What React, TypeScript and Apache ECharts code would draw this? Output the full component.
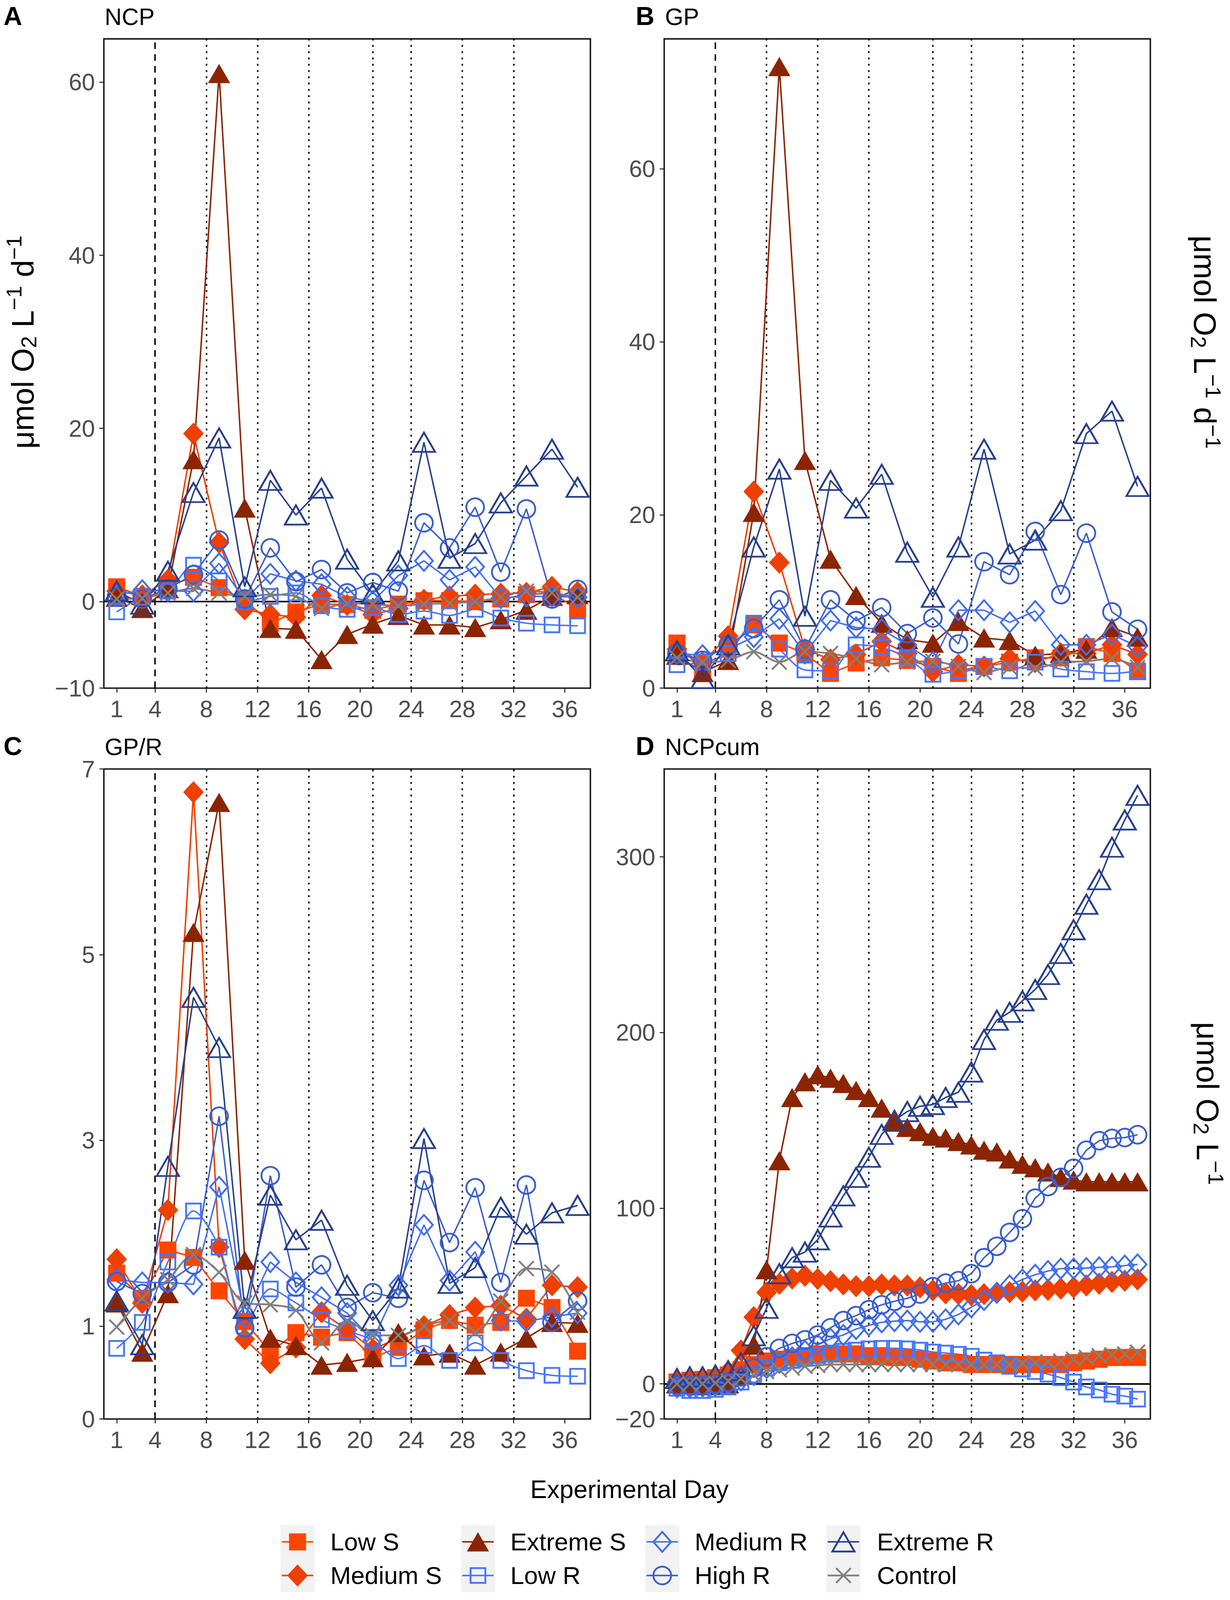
import React, { useEffect, useRef } from 'react';
import * as echarts from 'echarts';

// ---------- categories / ticks ----------
const treatments = ['Low S', 'Medium S', 'Extreme S', 'Low R', 'Medium R', 'High R', 'Extreme R', 'Control'];
const oddDays = [1, 3, 5, 7, 9, 11, 13, 15, 17, 19, 21, 23, 25, 27, 29, 31, 33, 35, 37];
const allDays = [1, 2, 3, 4, 5, 6, 7, 8, 9, 10, 11, 12, 13, 14, 15, 16, 17, 18, 19, 20, 21, 22, 23, 24, 25, 26, 27, 28, 29, 30, 31, 32, 33, 34, 35, 36, 37];
const xTicks = [1, 4, 8, 12, 16, 20, 24, 28, 32, 36];
const dashedDays = [4];
const dottedDays = [8, 12, 16, 21, 24, 28, 32];
const yTicksA = [-10, 0, 20, 40, 60];
const yTicksB = [0, 20, 40, 60];
const yTicksC = [0, 1, 3, 5, 7];
const yTicksD = [-20, 0, 100, 200, 300];

// ---------- A: NCP ----------
const ncpLowS = [1.7, 0.6, 1.8, 2.8, 1.6, 0.2, -2.5, -1.2, -0.3, -0.35, -1.0, -0.3, 0.1, 0.1, 0.0, 0.3, 0.8, 1.0, -0.9];
const ncpMedS = [1.2, 0.7, 2.5, 19.4, 6.8, -0.9, -1.5, -1.8, 0.7, -0.4, -1.5, -0.8, 0.2, 0.6, 0.8, 0.9, 1.0, 1.7, 1.1];
const ncpExtS = [0.5, -0.8, 1.5, 16.4, 61.0, 10.8, -3.1, -3.2, -6.7, -3.8, -2.6, -1.6, -2.7, -2.7, -3.0, -2.1, -1.0, 0.6, 0.8];
const ncpLowR = [-1.2, 0.5, 1.2, 4.2, 2.4, 0.0, 0.6, 1.0, -0.5, -0.9, -0.7, -1.5, -1.1, -1.6, -0.9, -1.9, -2.5, -2.7, -2.8];
const ncpMedR = [0.8, 1.3, 1.2, 1.2, 4.4, 0.2, 3.2, 2.4, 2.0, 0.5, 0.0, 3.0, 4.7, 2.5, 4.0, 0.4, 0.6, 0.6, 0.5];
const ncpHighR = [0.5, 0.3, 1.5, 3.1, 7.1, 0.3, 6.2, 2.3, 3.7, 1.0, 2.2, 1.2, 9.1, 6.2, 10.9, 3.4, 10.7, 0.3, 1.4];
const ncpExtR = [1.2, -0.3, 3.5, 12.6, 18.9, 1.7, 14.0, 10.0, 13.1, 4.9, 0.9, 4.7, 18.4, 5.0, 6.7, 11.4, 14.5, 17.6, 13.2];
const ncpCtrl = [0.3, 0.4, 1.0, 1.5, 1.0, 0.6, 0.8, 0.6, -0.8, -0.2, -0.3, -0.5, -0.3, -0.2, 0.0, 0.5, 1.2, 1.0, 0.5];

// ---------- B: GP ----------
const gpLowS = [5.2, 2.0, 4.5, 7.3, 5.2, 4.0, 1.7, 2.9, 3.5, 3.2, 2.5, 1.7, 2.5, 3.0, 3.5, 3.5, 4.8, 4.0, 1.9];
const gpMedS = [4.5, 3.0, 6.0, 22.7, 14.5, 4.5, 3.3, 3.9, 5.4, 4.0, 1.9, 2.7, 2.5, 3.4, 3.0, 4.0, 4.0, 5.0, 3.9];
const gpExtS = [3.8, 1.8, 3.2, 20.3, 71.8, 26.3, 14.9, 10.7, 7.5, 5.6, 5.2, 7.7, 5.8, 5.5, 3.8, 4.0, 4.5, 7.0, 5.9];
const gpLowR = [2.7, 3.0, 4.0, 7.5, 4.5, 2.1, 2.0, 5.0, 4.7, 3.5, 1.6, 2.0, 2.5, 2.0, 3.0, 2.2, 1.9, 1.7, 2.0];
const gpMedR = [4.0, 3.8, 4.5, 5.9, 8.0, 4.0, 7.8, 7.0, 6.8, 5.0, 3.0, 9.0, 9.0, 7.6, 8.9, 5.0, 5.0, 6.2, 4.8];
const gpHighR = [4.0, 3.2, 5.0, 6.9, 10.2, 4.5, 10.2, 7.8, 9.3, 6.3, 8.1, 5.1, 14.6, 13.1, 18.1, 10.8, 17.9, 8.8, 6.8];
const gpExtR = [4.3, 1.1, 5.0, 16.3, 25.3, 8.3, 24.0, 20.8, 24.7, 15.7, 10.5, 16.3, 27.6, 15.5, 17.1, 20.5, 29.4, 32.0, 23.3];
const gpCtrl = [3.5, 3.0, 3.2, 4.2, 3.0, 4.2, 4.0, 3.4, 2.7, 3.0, 3.1, 2.5, 1.8, 2.4, 2.3, 3.0, 3.1, 3.4, 2.4];

// ---------- C: GP/R ----------
const grLowS = [1.57, 1.3, 1.82, 1.74, 1.38, 1.05, 0.72, 0.93, 0.88, 0.93, 0.66, 0.77, 0.96, 1.06, 1.01, 1.04, 1.3, 1.2, 0.73];
const grMedS = [1.72, 1.25, 2.25, 6.75, 1.85, 0.86, 0.6, 0.77, 1.15, 0.96, 0.75, 0.87, 1.0, 1.12, 1.2, 1.22, 1.08, 1.44, 1.42];
const grExtS = [1.25, 0.72, 1.35, 5.24, 6.64, 1.71, 0.87, 0.79, 0.58, 0.61, 0.66, 0.93, 0.68, 0.71, 0.58, 0.72, 0.87, 1.04, 1.03];
const grLowR = [0.76, 1.04, 1.69, 2.24, 1.85, 1.0, 1.4, 1.25, 1.07, 0.95, 0.85, 0.65, 0.79, 0.63, 0.82, 0.63, 0.52, 0.47, 0.46];
const grMedR = [1.5, 1.47, 1.47, 1.45, 2.5, 1.1, 1.69, 1.47, 1.31, 1.14, 0.85, 1.44, 2.09, 1.49, 1.8, 1.06, 1.05, 1.1, 1.14];
const grHighR = [1.48, 1.35, 1.47, 1.66, 3.26, 0.98, 2.62, 1.42, 1.66, 1.2, 1.36, 1.3, 2.57, 1.9, 2.49, 1.47, 2.52, 1.04, 1.27];
const grExtR = [1.27, 0.8, 2.72, 4.54, 4.0, 1.19, 2.41, 1.93, 2.14, 1.44, 1.06, 1.41, 3.02, 1.46, 1.63, 2.28, 1.99, 2.22, 2.3];
const grCtrl = [0.99, 1.3, 1.5, 1.77, 1.58, 1.25, 1.23, 1.17, 0.82, 1.06, 0.9, 0.9, 1.0, 1.06, 0.93, 1.27, 1.62, 1.58, 1.15];

// ---------- D: NCPcum (daily) ----------
const cumLowS = [1, 2, 2.5, 3.5, 5, 8, 11, 13, 14, 15, 16, 17, 17, 17, 17, 16, 16, 15, 15, 14, 13, 12, 12, 11, 11, 11, 11, 11, 11, 11, 11, 12, 13, 14, 15, 15, 15];
const cumMedS = [1, 2, 2.5, 3, 7, 19, 38, 52, 57, 60, 61.5, 59.7, 58.4, 56.6, 55.6, 55.6, 56.6, 56, 56, 54.9, 53.2, 51.5, 51.1, 50.5, 51.1, 51.8, 52.2, 52.5, 53.2, 53.5, 54.2, 54.9, 56, 57, 58, 58.7, 59.4];
const cumExtS = [0, 0, -1, -1, 0, 5, 22, 65, 127, 163, 172, 176, 174, 171, 167, 163, 157, 149, 146, 143.6, 141, 140, 138, 136, 133, 132, 128, 125, 123, 120.6, 117.5, 116, 115, 115, 115, 115, 115];
const cumLowR = [-2.5, -3.8, -3.8, -3.2, -1.8, 1, 5, 9.2, 12, 13.3, 14.7, 16.1, 17.5, 18.5, 19.2, 19.9, 20.2, 20.2, 19.9, 19.2, 18.1, 17.5, 16.8, 15.7, 13.5, 12, 10, 8.5, 7, 5.5, 3.5, 1, -1.8, -3.5, -5.9, -7, -8.7];
const cumMedR = [-2, -2, -1.5, -1, 0, 2, 5, 9, 12, 15, 18.8, 22.3, 25.7, 27.8, 31.2, 33.3, 35, 35.7, 36, 35.3, 35.3, 36.7, 39.5, 43.6, 47.7, 51.8, 56, 59.4, 62.1, 64.2, 65.6, 65.6, 65.9, 66.3, 66.6, 67.3, 68];
const cumHighR = [-1, -1, -1, 0, 1, 4, 9, 15.4, 20.2, 23, 25, 27.8, 31.9, 36, 38.8, 42.2, 45, 47, 48.7, 51.1, 55.3, 57.3, 58.7, 62.7, 71.8, 78.3, 86.2, 94, 105.7, 112.3, 117.5, 122.7, 133, 138.4, 139.7, 140.2, 141.8];
const cumExtR = [3, 4, 4, 5, 7.5, 12, 27.4, 43, 62.7, 71.8, 75, 82, 95, 107, 117.5, 129, 142, 150, 155, 158, 159, 163, 166, 177.5, 196, 207, 211.5, 218, 224.5, 233, 245, 258.5, 273, 287, 305.5, 321, 335];
const cumCtrl = [0, 0, 0, 0.5, 1.5, 3, 5, 7, 8, 9, 10, 10.5, 11, 11, 11, 11, 11, 11, 11, 11, 11, 11, 11, 11, 11, 11, 11, 11.5, 12, 12.5, 13, 14, 15, 16, 16.5, 17, 18];

// ---------- styles ----------
const FONT = '"Liberation Sans", Arial, Helvetica, sans-serif';
const REF_W = 3150;
const REF_H = 4569;
type Sty = { color: string; shape: string; w: number; h: number; filled: boolean; lw: number; smooth: number | boolean };
const styles: Sty[] = [
  { color: '#FF4500', shape: 'rect', w: 46, h: 46, filled: true, lw: 4, smooth: false },
  { color: '#EE4000', shape: 'diamond', w: 56, h: 60, filled: true, lw: 4, smooth: false },
  { color: '#8B2500', shape: 'triangle', w: 60, h: 52, filled: true, lw: 4, smooth: false },
  { color: '#4876FF', shape: 'rect', w: 40, h: 40, filled: false, lw: 4, smooth: 0.3 },
  { color: '#436EEE', shape: 'diamond', w: 48, h: 54, filled: false, lw: 4, smooth: false },
  { color: '#3A5FCD', shape: 'circle', w: 48, h: 48, filled: false, lw: 4, smooth: false },
  { color: '#27408B', shape: 'triangle', w: 60, h: 52, filled: false, lw: 4, smooth: false },
  { color: '#808080', shape: 'cross', w: 40, h: 40, filled: false, lw: 5, smooth: 0.3 },
];
const CROSS = 'path://M0,0L10,10M10,0L0,10';

const panels = [
  { tag: 'A', title: 'NCP', days: oddDays, values: [ncpLowS, ncpMedS, ncpExtS, ncpLowR, ncpMedR, ncpHighR, ncpExtR, ncpCtrl], yMin: -10, yMax: 65, yTicks: yTicksA, zero: true, box: [266, 111, 1246, 1854] },
  { tag: 'B', title: 'GP', days: oddDays, values: [gpLowS, gpMedS, gpExtS, gpLowR, gpMedR, gpHighR, gpExtR, gpCtrl], yMin: 0, yMax: 75, yTicks: yTicksB, zero: false, box: [1701, 111, 1245, 1854] },
  { tag: 'C', title: 'GP/R', days: oddDays, values: [grLowS, grMedS, grExtS, grLowR, grMedR, grHighR, grExtR, grCtrl], yMin: 0, yMax: 7, yTicks: yTicksC, zero: false, box: [266, 2196, 1246, 1856] },
  { tag: 'D', title: 'NCPcum', days: allDays, values: [cumLowS, cumMedS, cumExtS, cumLowR, cumMedR, cumHighR, cumExtR, cumCtrl], yMin: -20, yMax: 350, yTicks: yTicksD, zero: true, box: [1701, 2196, 1245, 1856] },
];

const fmtNum = (v: number) => (v < 0 ? '\u2212' + Math.abs(v) : String(v));

function buildOption(W: number, H: number) {
  const sx = W / REF_W;
  const sy = H / REF_H;
  const s = Math.sqrt(sx * sy);
  const X = (v: number) => v * sx;
  const Y = (v: number) => v * sy;
  const S = (v: number) => v * s;

  const legendSymbol = (st: Sty, cx: number, cy: number): any[] => {
    const style = st.filled ? { fill: st.color, stroke: 'none' } : { fill: 'none', stroke: st.color, lineWidth: S(5) };
    const w = S(st.w), h = S(st.h);
    if (st.shape === 'rect') return [{ type: 'rect', shape: { x: cx - w / 2, y: cy - h / 2, width: w, height: h }, style, z: 12 }];
    if (st.shape === 'circle') return [{ type: 'circle', shape: { cx, cy, r: w / 2 }, style, z: 12 }];
    if (st.shape === 'diamond') return [{ type: 'polygon', shape: { points: [[cx, cy - h / 2], [cx + w / 2, cy], [cx, cy + h / 2], [cx - w / 2, cy]] }, style, z: 12 }];
    if (st.shape === 'triangle') return [{ type: 'polygon', shape: { points: [[cx, cy - h / 2], [cx + w / 2, cy + h / 2], [cx - w / 2, cy + h / 2]] }, style, z: 12 }];
    return [
      { type: 'line', shape: { x1: cx - w / 2, y1: cy - h / 2, x2: cx + w / 2, y2: cy + h / 2 }, style: { stroke: st.color, lineWidth: S(5) }, z: 12 },
      { type: 'line', shape: { x1: cx + w / 2, y1: cy - h / 2, x2: cx - w / 2, y2: cy + h / 2 }, style: { stroke: st.color, lineWidth: S(5) }, z: 12 },
    ];
  };

  const yTitle = (text: string, x: number, y: number, rotation: number) => ({
    type: 'text', x: X(x), y: Y(y), rotation, z: 20,
    style: {
      text, align: 'center', verticalAlign: 'middle', fontFamily: FONT, fontSize: S(84), fill: '#000',
      rich: {
        a: { fontSize: S(84), fontFamily: FONT, fill: '#000' },
        sb: { fontSize: S(58), fontFamily: FONT, fill: '#000', padding: [S(34), 0, 0, 0] },
        sp: { fontSize: S(58), fontFamily: FONT, fill: '#000', padding: [0, 0, S(46), 0] },
      },
    },
  });

  const grid = panels.map((p) => ({
    left: X(p.box[0]), top: Y(p.box[1]), width: X(p.box[2]), height: Y(p.box[3]),
    show: true, borderColor: '#1a1a1a', borderWidth: S(4), backgroundColor: '#ffffff', containLabel: false,
  }));
  const tickStyle = { length: S(12), lineStyle: { color: '#333333', width: S(3) } };
  const labelStyle = { fontSize: S(64), color: '#4d4d4d', fontFamily: FONT, margin: S(24), formatter: (v: number) => fmtNum(v) };
  const xAxis = panels.map((p, i) => ({
    type: 'value', gridIndex: i, min: 0, max: 38,
    axisLine: { show: false, onZero: false },
    splitLine: { show: false },
    axisTick: { show: true, customValues: xTicks, ...tickStyle },
    axisLabel: { customValues: xTicks, ...labelStyle },
  }));
  const yAxis = panels.map((p, i) => ({
    type: 'value', gridIndex: i, min: p.yMin, max: p.yMax,
    axisLine: { show: false, onZero: false },
    splitLine: { show: false },
    axisTick: { show: true, customValues: p.yTicks, ...tickStyle },
    axisLabel: { customValues: p.yTicks, ...labelStyle },
  }));

  const series: any[] = [];
  panels.forEach((p, pi) => {
    treatments.forEach((name, ti) => {
      const st = styles[ti];
      const ser: any = {
        type: 'line', name, xAxisIndex: pi, yAxisIndex: pi,
        data: p.days.map((d, k) => [d, p.values[ti][k]]),
        symbol: st.shape === 'cross' ? CROSS : st.shape,
        symbolSize: [S(st.w), S(st.h)],
        showAllSymbol: true,
        smooth: st.smooth,
        lineStyle: { color: st.color, width: S(st.lw) },
        itemStyle: st.filled
          ? { color: st.color, borderWidth: 0 }
          : { color: 'rgba(0,0,0,0)', borderColor: st.color, borderWidth: S(5) },
        emphasis: { disabled: true },
        silent: true,
        z: 2,
      };
      if (ti === 0) {
        const mlData: any[] = [];
        dashedDays.forEach((d) => mlData.push({ xAxis: d, lineStyle: { type: [S(18), S(14)], color: '#000', width: S(4) } }));
        dottedDays.forEach((d) => mlData.push({ xAxis: d, lineStyle: { type: [S(5), S(12)], color: '#000', width: S(4) } }));
        if (p.zero) mlData.push({ yAxis: 0, lineStyle: { type: 'solid', color: '#000', width: S(4) } });
        ser.markLine = {
          silent: true, symbol: ['none', 'none'], label: { show: false }, z: 1,
          animation: false, emphasis: { disabled: true }, data: mlData,
        };
      }
      series.push(ser);
    });
  });

  const graphic: any[] = [];
  panels.forEach((p) => {
    const tagX = p.box[0] < 1000 ? 9 : 1628;
    const ty = p.box[1] - 65;
    graphic.push({ type: 'text', x: X(tagX), y: Y(ty), z: 20, style: { text: p.tag, fontFamily: FONT, fontSize: S(70), fontWeight: 'bold', fill: '#000', align: 'left', verticalAlign: 'middle' } });
    graphic.push({ type: 'text', x: X(p.box[0] + 2), y: Y(ty + 2), z: 20, style: { text: p.title, fontFamily: FONT, fontSize: S(64), fill: '#000', align: 'left', verticalAlign: 'middle' } });
  });
  graphic.push(yTitle('{a|\u03bcmol O}{sb|2}{a| L}{sp|\u22121}{a| d}{sp|\u22121}', 58, 977, Math.PI / 2));
  graphic.push(yTitle('{a|\u03bcmol O}{sb|2}{a| L}{sp|\u22121}{a| d}{sp|\u22121}', 3085, 977, -Math.PI / 2));
  graphic.push(yTitle('{a|\u03bcmol O}{sb|2}{a| L}{sp|\u22121}', 3092, 3151, -Math.PI / 2));
  graphic.push({ type: 'text', x: X(1612), y: Y(4253), z: 20, style: { text: 'Experimental Day', fontFamily: FONT, fontSize: S(68), fill: '#000', align: 'center', verticalAlign: 'middle' } });

  // legend (4 columns x 2 rows, filled by column)
  const keyCx = [762, 1224, 1696, 2160];
  const textX = [846, 1307, 1779, 2246];
  const rowCy = [4403, 4499];
  const keyW = X(88), keyH = Y(96);
  treatments.forEach((name, i) => {
    const col = Math.floor(i / 2), row = i % 2;
    const cx = X(keyCx[col]), cy = Y(rowCy[row]);
    const st = styles[i];
    graphic.push({ type: 'rect', z: 10, shape: { x: cx - keyW / 2, y: cy - keyH / 2, width: keyW, height: keyH }, style: { fill: '#f2f2f2', stroke: 'none' } });
    graphic.push({ type: 'line', z: 11, shape: { x1: cx - keyW / 2 + S(4), y1: cy, x2: cx + keyW / 2 - S(4), y2: cy }, style: { stroke: st.color, lineWidth: S(st.lw) } });
    legendSymbol(st, cx, cy).forEach((g) => graphic.push(g));
    graphic.push({ type: 'text', z: 12, x: X(textX[col]), y: cy, style: { text: name, fontFamily: FONT, fontSize: S(67), fill: '#000', align: 'left', verticalAlign: 'middle' } });
  });

  return { animation: false, backgroundColor: '#ffffff', grid, xAxis, yAxis, series, graphic };
}

export default function App() {
  const ref = useRef<HTMLDivElement>(null);
  useEffect(() => {
    document.body.style.margin = '0';
    document.documentElement.style.overflow = 'hidden';
    const el = ref.current;
    if (!el) return;
    const W = el.clientWidth || REF_W;
    const H = el.clientHeight || REF_H;
    const chart = echarts.init(el, undefined, { renderer: 'svg', width: W, height: H });
    chart.setOption(buildOption(W, H) as any);
    return () => chart.dispose();
  }, []);
  return <div ref={ref} style={{ width: '100vw', height: '100vh', background: '#fff' }} />;
}
